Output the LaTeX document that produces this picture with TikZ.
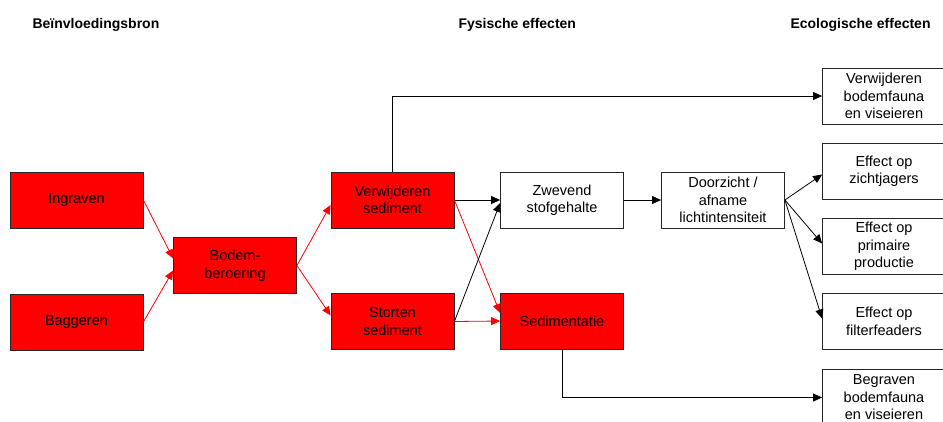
\documentclass[tikz,border=0pt]{standalone}
\usepackage{fontspec}
\setmainfont{Liberation Sans}
\usetikzlibrary{arrows.meta}
\begin{document}
\begin{tikzpicture}[x=1pt,y=-1pt]
        \useasboundingbox (0,0) rectangle (943,421);
        \begin{scope}[every node/.style={font=\bfseries\fontsize{14}{16}\selectfont,anchor=base west}]
            \node (hbron) at (29,28) {Beïnvloedingsbron};
            \node (hfys)  at (455,28) {Fysische effecten};
            \node (heco)  at (787,28) {Ecologische effecten};
        \end{scope}
        \begin{scope}[every node/.style={rectangle,draw=black!85,line width=0.8pt,minimum width=123pt,minimum height=56pt,align=center,inner sep=1pt,font=\fontsize{14.5}{17.5}\selectfont}]
            \node[fill=red,minimum width=133pt] (ingraven) at (76.5,200) {Ingraven};
            \node[fill=red,minimum width=133pt] (baggeren) at (76.5,322) {Baggeren};
            \node[fill=red] (bodem)    at (235,265.5) {Bodem-\\beroering};
            \node[fill=red] (verw)     at (392.5,200) {Verwijderen\\sediment};
            \node[fill=red] (storten)  at (392.5,321.5) {Storten\\sediment};
            \node (zwevend)            at (562,200) {Zwevend\\stofgehalte};
            \node[fill=red] (sedim)    at (562,321) {Sedimentatie};
            \node (doorzicht)          at (723,200) {Doorzicht /\\afname\\lichtintensiteit};
            \node (fauna)   at (884,96) {Verwijderen\\bodemfauna\\en viseieren};
            \node (zicht)   at (884,171.5) {Effect op\\zichtjagers};
            \node (prim)    at (884,246.5) {Effect op\\primaire\\productie};
            \node (filter)  at (884,321.5) {Effect op\\filterfeaders};
            \node (begraven) at (884,397.5) {Begraven\\bodemfauna\\en viseieren};
        \end{scope}
        \begin{scope}[every edge/.style={draw,line width=0.8pt,-{Triangle[length=9pt,width=8pt]}}]
            \path
                (ingraven.east) edge [red] ([yshift=7pt]bodem.west)
                (baggeren.east) edge [red] ([yshift=-5pt]bodem.west)
                (bodem.east) edge [red] ([yshift=-5pt]verw.west)
                (bodem.east) edge [red] ([yshift=6pt]storten.west)
                (verw.north) edge [to path={|- (\tikztotarget)}] (fauna.west)
                (verw.east) edge (zwevend.west)
                (verw.east) edge [red] ([yshift=8pt]sedim.west)
                (storten.east) edge ([yshift=-3pt]zwevend.west)
                (storten.east) edge [red] (sedim.west)
                (zwevend) edge (doorzicht)
                (doorzicht.east) edge ([yshift=-3pt]zicht.west)
                (doorzicht.east) edge ([yshift=3pt]prim.west)
                (doorzicht.east) edge ([yshift=3pt]filter.west)
                (sedim.south) edge [to path={|- (\tikztotarget)}] (begraven.west);
        \end{scope}
    \end{tikzpicture}
\end{document}
